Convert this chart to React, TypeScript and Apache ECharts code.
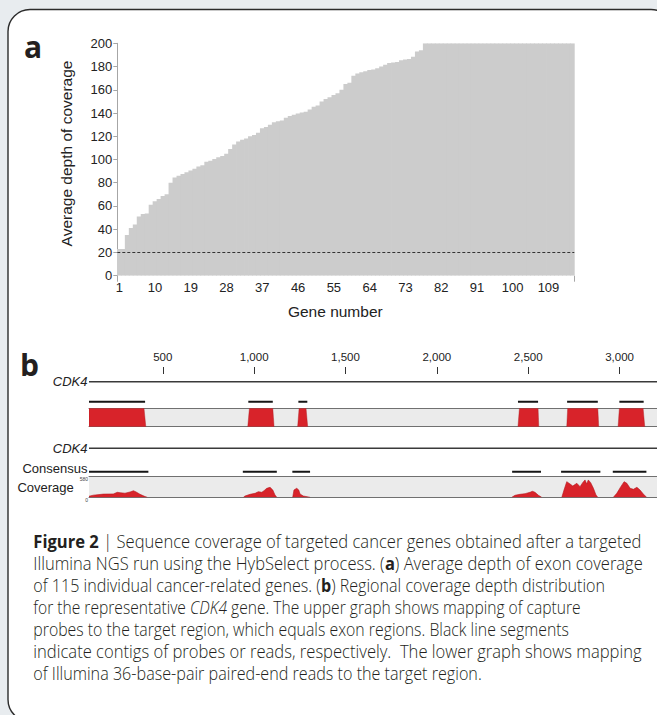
import React, { useEffect, useRef } from 'react';
import * as echarts from 'echarts';

// ---------- Panel a data ----------
const GENE_NUMBERS: string[] = Array.from({ length: 115 }, (_, i) => String(i + 1));
const GENE_TICK_LABELS = ['1', '10', '19', '28', '37', '46', '55', '64', '73', '82', '91', '100', '109'];
const DEPTH = [
  23, 23, 35, 41, 44, 51, 53, 53.5, 61, 64,
  66, 68.5, 70, 80, 84.5, 86, 87.5, 89, 90.5, 92,
  94, 95, 98, 99, 100.5, 102, 103, 105, 109, 113,
  115.5, 117, 118, 120, 121, 123, 127, 128, 130, 132,
  133, 133.5, 136, 137.5, 138.5, 139.5, 140.5, 141, 143, 145.5,
  146.5, 150, 152, 153.5, 155.5, 157, 160, 165, 166, 172,
  174, 175, 176, 177, 177.5, 178.5, 180, 181.5, 183, 183.5,
  184, 185.5, 186, 186.5, 188.5, 193, 194, 200, 200, 200,
  200, 200, 200, 200, 200, 200, 200, 200, 200, 200,
  200, 200, 200, 200, 200, 200, 200, 200, 200, 200,
  200, 200, 200, 200, 200, 200, 200, 200, 200, 200,
  200, 200, 200, 200, 200,
];
const DEPTH_THRESHOLD = 20;

// ---------- Panel b data (base pairs) ----------
const REGION_START = 96;
const REGION_END = 3205;
const RULER_TICKS = [500, 1000, 1500, 2000, 2500, 3000];
const PROBE_CONTIGS = [[96, 403], [968, 1102], [1242, 1291], [2444, 2554], [2713, 2881], [2999, 3132]];
// [bottomStart, topStart, topEnd, bottomEnd]
const PROBE_BLOCKS = [
  [96, 96, 397, 407],
  [965, 974, 1102, 1109],
  [1238, 1246, 1284, 1293],
  [2444, 2452, 2554, 2558],
  [2711, 2716, 2881, 2886],
  [2992, 2999, 3129, 3138],
];
const READ_CONTIGS = [[96, 421], [938, 1124], [1209, 1306], [2412, 2570], [2680, 2895], [2963, 3147]];
const COVERAGE_MAX = 580;
const COVERAGE_1 = [[96, 30], [120, 60], [175, 90], [229, 95], [251, 140], [266, 130], [293, 115], [321, 150], [339, 185], [354, 150], [375, 85], [403, 20], [415, 0]];
const COVERAGE_2 = [[941, 0], [950, 37], [978, 84], [1005, 112], [1023, 158], [1042, 141], [1054, 187], [1069, 253], [1087, 281], [1102, 206], [1114, 65], [1124, 0]];
const COVERAGE_3 = [[1211, 0], [1218, 206], [1233, 253], [1244, 206], [1251, 93], [1269, 37], [1291, 15], [1306, 0]];
const COVERAGE_4 = [[2410, 0], [2428, 56], [2455, 84], [2483, 103], [2510, 141], [2523, 169], [2537, 141], [2556, 56], [2574, 0]];
const COVERAGE_5 = [[2684, 0], [2696, 206], [2711, 440], [2729, 375], [2744, 318], [2766, 394], [2784, 300], [2798, 412], [2811, 488], [2820, 375], [2829, 488], [2842, 412], [2857, 253], [2871, 65], [2881, 0]];
const COVERAGE_6 = [[2966, 0], [2985, 112], [3007, 300], [3025, 440], [3040, 394], [3058, 253], [3076, 225], [3095, 281], [3112, 206], [3130, 93], [3148, 0]];
const COVERAGE_REGIONS = [COVERAGE_1, COVERAGE_2, COVERAGE_3, COVERAGE_4, COVERAGE_5, COVERAGE_6];

// ---------- Caption ----------
type Seg = [string, 'n' | 'b' | 'i'];
const CAPTION_LINES: Seg[][] = [
  [['Figure 2', 'b'], [' | Sequence coverage of targeted cancer genes obtained after a targeted', 'n']],
  [['Illumina NGS run using the HybSelect process. (', 'n'], ['a', 'b'], [') Average depth of exon coverage', 'n']],
  [['of 115 individual cancer-related genes. (', 'n'], ['b', 'b'], [') Regional coverage depth distribution', 'n']],
  [['for the representative ', 'n'], ['CDK4', 'i'], [' gene. The upper graph shows mapping of capture', 'n']],
  [['probes to the target region, which equals exon regions. Black line segments', 'n']],
  [['indicate contigs of probes or reads, respectively.  The lower graph shows mapping', 'n']],
  [['of Illumina 36-base-pair paired-end reads to the target region.', 'n']],
];
const CAPTION_WIDTHS = [608.4, 610, 571.7, 547.4, 536, 608.4, 448.4];

const SANS = '"Liberation Sans", Arial, Helvetica, sans-serif';
const CAP_FONT = '"Open Sans", "Noto Sans", sans-serif';
const CAP_SIZE = 18.5;
const CAP_WEIGHT = 300;
const RED = '#d8232a';
const BAR_GREY = '#cccccc';

function measure(ctx: CanvasRenderingContext2D | null, text: string, weight: string | number, style: string) {
  if (!ctx) return text.length * CAP_SIZE * 0.5;
  ctx.font = `${style} ${weight} ${CAP_SIZE}px ${CAP_FONT}`;
  return ctx.measureText(text).width;
}

function buildCaption() {
  const canvas = document.createElement('canvas');
  const ctx = canvas.getContext('2d');
  return CAPTION_LINES.map((segs, i) => {
    let w = 0;
    let txt = '';
    segs.forEach(([t, k]) => {
      w += measure(ctx, t, k === 'b' ? 700 : CAP_WEIGHT, k === 'i' ? 'italic' : 'normal');
      txt += `{${k}|${t}}`;
    });
    const s = CAPTION_WIDTHS[i] / w;
    return {
      type: 'text',
      x: 33.3,
      y: 540.3 + 22.1 * i,
      scaleX: s,
      silent: true,
      style: {
        text: txt,
        x: 0,
        y: 0,
        align: 'left',
        verticalAlign: 'middle',
        rich: {
          n: { fontFamily: CAP_FONT, fontSize: CAP_SIZE, fontWeight: CAP_WEIGHT, fill: '#231f20' },
          b: { fontFamily: CAP_FONT, fontSize: CAP_SIZE, fontWeight: 700, fill: '#231f20' },
          i: { fontFamily: CAP_FONT, fontSize: CAP_SIZE, fontWeight: CAP_WEIGHT, fontStyle: 'italic', fill: '#231f20' },
        },
      },
    };
  });
}

const contigSeries = (xi: number, yi: number, data: number[][]) => ({
  type: 'custom',
  xAxisIndex: xi,
  yAxisIndex: yi,
  data,
  encode: { x: [0, 1] },
  silent: true,
  clip: true,
  renderItem: (_p: any, api: any) => {
    const a = api.coord([api.value(0), 0]);
    const b = api.coord([api.value(1), 0]);
    return {
      type: 'line',
      shape: { x1: a[0], y1: a[1], x2: b[0], y2: b[1] },
      style: { stroke: '#151515', lineWidth: 2 },
    };
  },
});

const geneLine = (xi: number, yi: number) => ({
  type: 'line',
  xAxisIndex: xi,
  yAxisIndex: yi,
  data: [[REGION_START, 0], [REGION_END, 0]],
  symbol: 'none',
  silent: true,
  lineStyle: { color: '#3a3a3a', width: 1.6 },
});

const B_LEFT = 89;
const B_WIDTH = 568;

const hiddenX = (gridIndex: number) => ({
  type: 'value', gridIndex, min: REGION_START, max: REGION_END, show: false,
});
const borderX = (gridIndex: number, position: string) => ({
  type: 'value', gridIndex, position, min: REGION_START, max: REGION_END,
  axisLine: { show: true, lineStyle: { color: '#707070', width: 1 } },
  axisTick: { show: false }, axisLabel: { show: false }, splitLine: { show: false },
});
const catY = (gridIndex: number, label: string, italic: boolean, extra: any = {}) => ({
  type: 'category', gridIndex, data: [label],
  axisLine: { show: false }, axisTick: { show: false }, splitLine: { show: false },
  axisLabel: {
    show: true, margin: 1.5, fontSize: 13, color: '#222', fontFamily: SANS,
    fontStyle: italic ? 'italic' : 'normal', ...extra,
  },
});

export default function App() {
  const ref = useRef<HTMLDivElement>(null);
  useEffect(() => {
    if (!ref.current) return;
    const chart = echarts.init(ref.current, null, { renderer: 'svg' });
    const option: any = {
      animation: false,
      backgroundColor: '#e8ecef',
      textStyle: { fontFamily: SANS },
      grid: [
        { left: 117.3, top: 43.3, width: 457, height: 232.4 },
        { left: B_LEFT, top: 373, width: B_WIDTH, height: 1 },
        { left: B_LEFT, top: 376.7, width: B_WIDTH, height: 10 },
        { left: B_LEFT, top: 396.7, width: B_WIDTH, height: 10 },
        { left: B_LEFT, top: 408.3, width: B_WIDTH, height: 18.4, show: true, backgroundColor: '#ebebeb', borderWidth: 0 },
        { left: B_LEFT, top: 443.3, width: B_WIDTH, height: 10 },
        { left: B_LEFT, top: 466.7, width: B_WIDTH, height: 10 },
        { left: B_LEFT, top: 476.7, width: B_WIDTH, height: 20.6, show: true, backgroundColor: '#ebebeb', borderWidth: 0 },
      ],
      xAxis: [
        {
          type: 'category', gridIndex: 0, data: GENE_NUMBERS,
          axisLine: { show: false },
          axisTick: { show: true, interval: (i: number) => i === 0, length: 6, lineStyle: { color: '#a6a6a6' } },
          axisLabel: {
            interval: (_i: number, v: string) => GENE_TICK_LABELS.includes(v),
            fontSize: 13, color: '#222', margin: 5, fontFamily: SANS,
          },
          name: 'Gene number', nameLocation: 'middle', nameGap: 28,
          nameTextStyle: { fontSize: 15.5, color: '#222', fontFamily: SANS, padding: [0, 21, 0, 0] },
        },
        {
          type: 'value', gridIndex: 1, position: 'top', min: REGION_START, max: REGION_END,
          axisLine: { show: false }, splitLine: { show: false },
          axisTick: { show: true, customValues: RULER_TICKS, length: 7, lineStyle: { color: '#333', width: 1 } },
          axisLabel: {
            show: true, customValues: RULER_TICKS, margin: 10, fontSize: 11.5, color: '#222', fontFamily: SANS,
            formatter: (v: number) => String(v).replace(/\B(?=(\d{3})+(?!\d))/g, ','),
          },
        },
        hiddenX(2),
        hiddenX(3),
        borderX(4, 'bottom'),
        borderX(4, 'top'),
        hiddenX(5),
        hiddenX(6),
        borderX(7, 'bottom'),
        borderX(7, 'top'),
      ],
      yAxis: [
        {
          type: 'value', gridIndex: 0, min: 0, max: 200, interval: 20,
          axisLine: { show: true, lineStyle: { color: '#a6a6a6', width: 1 } },
          axisTick: { show: true, length: 4, lineStyle: { color: '#a6a6a6' } },
          splitLine: { show: false },
          axisLabel: { fontSize: 13, color: '#222', margin: 5, fontFamily: SANS },
          name: 'Average depth of coverage', nameLocation: 'middle', nameGap: 43,
          nameTextStyle: { fontSize: 15.5, color: '#222', fontFamily: SANS, padding: [0, 0, 0, 12] },
        },
        { type: 'value', gridIndex: 1, show: false, min: 0, max: 1 },
        catY(2, 'CDK4', true),
        { type: 'category', gridIndex: 3, data: [''], show: false },
        { type: 'value', gridIndex: 4, show: false, min: 0, max: 1 },
        catY(5, 'CDK4', true),
        catY(6, 'Consensus', false, { verticalAlign: 'bottom', lineHeight: 6 }),
        {
          type: 'value', gridIndex: 7, min: 0, max: COVERAGE_MAX, interval: COVERAGE_MAX,
          axisLine: { show: false }, axisTick: { show: false }, splitLine: { show: false },
          axisLabel: { fontSize: 5, color: '#444', margin: 1, fontFamily: SANS, lineHeight: 5, verticalAlign: 'top' },
          name: 'Coverage', nameLocation: 'middle', nameRotate: 0, nameGap: 1.5,
          nameTextStyle: { fontSize: 13, color: '#222', fontFamily: SANS, lineHeight: 8 },
        },
      ],
      graphic: {
        elements: [
          {
            type: 'rect', z: -10, silent: true,
            shape: { x: 8, y: 9.5, width: 665, height: 712, r: 22 },
            style: { fill: '#ffffff', stroke: '#2b2b2b', lineWidth: 1.4 },
          },
          {
            type: 'text', x: 24, y: 46.2, silent: true,
            style: { text: 'a', fontFamily: CAP_FONT, fontWeight: 700, fontSize: 30, fill: '#231f20', align: 'left', verticalAlign: 'middle' },
          },
          {
            type: 'text', x: 20, y: 364.5, silent: true,
            style: { text: 'b', fontFamily: CAP_FONT, fontWeight: 700, fontSize: 30, fill: '#231f20', align: 'left', verticalAlign: 'middle' },
          },
          ...buildCaption(),
        ],
      },
      series: [
        {
          type: 'custom', xAxisIndex: 0, yAxisIndex: 0,
          data: DEPTH.map((v, i) => [i, v]),
          encode: { x: 0, y: 1 }, silent: true, clip: true,
          renderItem: (_p: any, api: any) => {
            const top = api.coord([api.value(0), api.value(1)]);
            const base = api.coord([api.value(0), 0]);
            const w = api.size([1, 0])[0];
            return {
              type: 'rect',
              shape: { x: top[0] - w / 2 - 0.4, y: top[1], width: w + 0.8, height: base[1] - top[1] },
              style: { fill: BAR_GREY },
            };
          },
        },
        {
          type: 'line', xAxisIndex: 0, yAxisIndex: 0, data: [], silent: true,
          markLine: {
            silent: true, symbol: ['none', 'none'], label: { show: false },
            lineStyle: { color: '#333', type: [3, 2], width: 1 },
            data: [{ yAxis: DEPTH_THRESHOLD }],
          },
        },
        geneLine(2, 2),
        contigSeries(3, 3, PROBE_CONTIGS),
        {
          type: 'custom', xAxisIndex: 4, yAxisIndex: 4, data: PROBE_BLOCKS,
          encode: { x: [0, 1, 2, 3] }, silent: true, clip: true,
          renderItem: (_p: any, api: any) => {
            const pts = [
              api.coord([api.value(0), 0]),
              api.coord([api.value(1), 1]),
              api.coord([api.value(2), 1]),
              api.coord([api.value(3), 0]),
            ];
            return { type: 'polygon', shape: { points: pts }, style: { fill: RED, stroke: '#a81b21', lineWidth: 0.4 } };
          },
        },
        geneLine(6, 5),
        contigSeries(7, 6, READ_CONTIGS),
        ...COVERAGE_REGIONS.map((reg) => ({
          type: 'line', xAxisIndex: 8, yAxisIndex: 7, data: reg, symbol: 'none', silent: true,
          lineStyle: { color: '#b5161c', width: 0.6 },
          areaStyle: { color: RED, opacity: 1 },
        })),
      ],
    };
    chart.setOption(option);
    return () => chart.dispose();
  }, []);
  return <div ref={ref} style={{ position: 'fixed', left: 0, top: 0, width: 657, height: 715 }} />;
}
